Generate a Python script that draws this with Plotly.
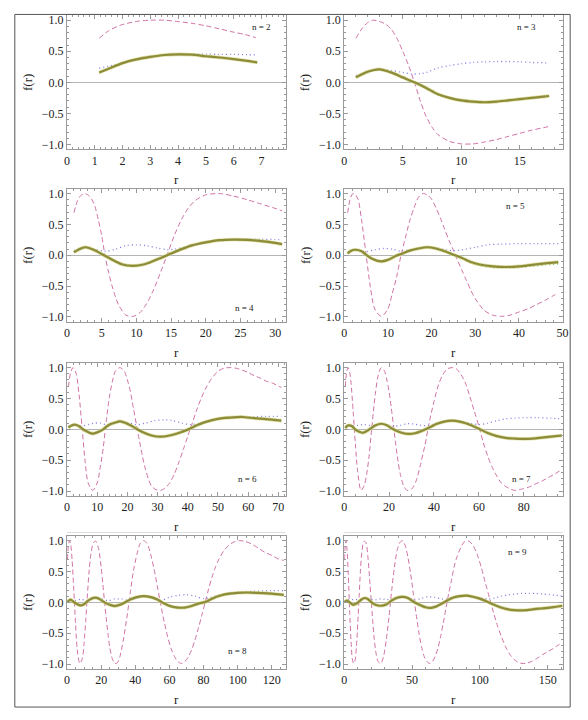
import plotly.graph_objects as go

# ---------------- data ----------------
# n = 2
r2_pink = [1.16, 1.5, 1.93, 2.5, 3.0, 3.5, 3.95, 4.5, 5.0, 5.5, 5.97, 6.4, 6.8]
f2_pink = [0.71, 0.83, 0.92, 0.98, 1.0, 1.0, 0.98, 0.95, 0.91, 0.86, 0.81, 0.77, 0.72]
r2_blue = [1.16, 1.5, 2, 2.5, 3, 3.5, 4, 4.5, 5, 5.5, 6, 6.5, 6.85]
f2_blue = [0.23, 0.26, 0.31, 0.36, 0.40, 0.43, 0.45, 0.455, 0.455, 0.45, 0.45, 0.445, 0.44]
r2_olive = [1.16, 1.5, 2, 2.5, 3, 3.5, 4, 4.5, 5, 5.5, 6, 6.5, 6.85]
f2_olive = [0.16, 0.22, 0.31, 0.37, 0.41, 0.44, 0.45, 0.445, 0.42, 0.40, 0.375, 0.345, 0.32]

# n = 3
r3_pink = [1, 1.5, 2, 2.4, 3, 3.5, 4, 4.5, 5, 5.5, 6, 6.5, 7, 7.5, 8, 9, 10, 11, 12, 13, 14, 15, 16, 17, 17.5]
f3_pink = [0.71, 0.86, 0.96, 1.0, 0.98, 0.94, 0.86, 0.71, 0.50, 0.27, 0.0, -0.30, -0.55, -0.72, -0.84,
           -0.95, -0.99, -0.99, -0.96, -0.92, -0.87, -0.82, -0.77, -0.73, -0.71]
r3_blue = [1, 2, 3, 4, 5, 5.7, 6.5, 7, 8, 9, 10, 11, 12, 13, 14, 15, 16, 17, 17.5]
f3_blue = [0.11, 0.17, 0.21, 0.19, 0.16, 0.135, 0.14, 0.16, 0.23, 0.27, 0.30, 0.32, 0.33, 0.335, 0.335,
           0.33, 0.32, 0.315, 0.31]
r3_olive = [1, 2, 3, 4, 5, 6, 7, 8, 9, 10, 11, 12, 13, 14, 15, 16, 17, 17.5]
f3_olive = [0.08, 0.17, 0.21, 0.16, 0.08, 0.0, -0.09, -0.19, -0.25, -0.29, -0.31, -0.32, -0.31, -0.29,
            -0.27, -0.25, -0.23, -0.22]

# n = 4
r4_pink = [1, 1.5, 2, 2.5, 3, 3.5, 4, 4.5, 5, 5.5, 6, 6.5, 7, 7.5, 8.5, 9.5, 10.5, 11.5, 12.5, 13.5, 14.5,
           15.5, 16.5, 17.5, 18.5, 20, 22, 24, 26, 28, 30, 31]
f4_pink = [0.69, 0.88, 0.97, 1.0, 0.98, 0.92, 0.80, 0.58, 0.32, -0.02, -0.28, -0.50, -0.68, -0.82, -0.97,
           -0.99, -0.93, -0.78, -0.55, -0.27, 0.03, 0.33, 0.58, 0.77, 0.89, 0.98, 1.0, 0.96, 0.90, 0.83,
           0.76, 0.72]
r4_blue = [1, 2.7, 4, 5.5, 7, 8.5, 10, 11.5, 13, 14.5, 15.5, 17, 18.5, 20, 22, 24, 26, 28, 30, 31]
f4_blue = [0.075, 0.14, 0.10, 0.065, 0.10, 0.155, 0.17, 0.155, 0.12, 0.09, 0.10, 0.13, 0.18, 0.22, 0.25,
           0.26, 0.265, 0.26, 0.255, 0.25]
r4_olive = [1, 2, 2.7, 4, 5, 5.5, 7, 8, 9.5, 11, 12.5, 14, 15, 16.5, 18, 20, 22, 24, 26, 28, 30, 31]
f4_olive = [0.05, 0.11, 0.13, 0.08, 0.02, -0.01, -0.10, -0.15, -0.17, -0.15, -0.09, -0.02, 0.03, 0.10,
            0.16, 0.21, 0.245, 0.255, 0.25, 0.23, 0.20, 0.18]

# n = 5
r5_pink = [0.8, 1.4, 2, 2.6, 3.2, 4, 5, 6, 7, 8.5, 10, 11, 12, 13, 14, 15, 16, 17, 18, 19, 20, 21, 22, 23,
           24, 25, 26, 27, 28, 29, 30, 32, 34, 36, 38, 40, 42, 44, 46, 48, 49]
f5_pink = [0.69, 0.92, 1.0, 0.98, 0.90, 0.56, 0.02, -0.52, -0.87, -0.99, -0.87, -0.62, -0.35, 0.0, 0.28,
           0.56, 0.77, 0.94, 1.0, 0.98, 0.91, 0.77, 0.61, 0.42, 0.24, 0.08, -0.09, -0.25, -0.41, -0.57,
           -0.70, -0.89, -0.97, -0.99, -0.97, -0.92, -0.87, -0.80, -0.73, -0.65, -0.61]
r5_blue = [0.8, 2.5, 4, 5, 7, 9, 11, 13, 15, 17, 19, 21, 23, 25, 27, 30, 33, 36, 40, 44, 49]
f5_blue = [0.05, 0.09, 0.065, 0.06, 0.09, 0.11, 0.10, 0.065, 0.09, 0.11, 0.13, 0.12, 0.09, 0.075, 0.09,
           0.13, 0.17, 0.18, 0.19, 0.19, 0.19]
r5_olive = [0.8, 1.5, 2.5, 4, 5, 6.5, 8.5, 10, 12, 13, 15, 17, 19, 21, 23, 25, 27, 29, 31, 34, 37, 40, 43,
            46, 49]
f5_olive = [0.03, 0.07, 0.09, 0.065, 0.01, -0.06, -0.10, -0.075, -0.005, 0.02, 0.075, 0.11, 0.13, 0.11,
            0.065, 0.01, -0.045, -0.11, -0.15, -0.18, -0.19, -0.18, -0.155, -0.13, -0.11]
f5_green = [0.03, 0.07, 0.09, 0.065, 0.01, -0.06, -0.10, -0.075, -0.005, 0.02, 0.075, 0.115, 0.135, 0.115,
            0.065, 0.005, -0.055, -0.12, -0.165, -0.195, -0.20, -0.195, -0.175, -0.155, -0.135]

# n = 6
r6_pink = [0.5, 1.2, 2, 3, 4, 5, 6, 7, 8.5, 10, 11, 12, 13, 14, 15, 16, 17.5, 19, 20, 21, 22, 23, 24, 25,
           26, 27, 28, 29.5, 31, 32.5, 34, 35.5, 37, 38.5, 40, 41.5, 43, 44.5, 46, 48, 50, 52, 54, 56, 58,
           60, 62, 64, 66, 68, 70, 71]
f6_pink = [0.69, 0.92, 1.0, 0.91, 0.56, 0.02, -0.52, -0.87, -0.99, -0.87, -0.62, -0.30, 0.13, 0.51, 0.77,
           0.94, 1.0, 0.94, 0.80, 0.61, 0.34, 0.075, -0.19, -0.44, -0.65, -0.81, -0.92, -0.98, -0.99,
           -0.95, -0.87, -0.73, -0.54, -0.33, -0.11, 0.10, 0.32, 0.51, 0.67, 0.83, 0.94, 0.99, 1.0, 0.99,
           0.96, 0.92, 0.87, 0.83, 0.78, 0.75, 0.70, 0.68]
r6_blue = [0.5, 2.5, 4, 5.5, 7, 9, 11, 13, 15, 17.5, 20, 23, 26, 29, 32, 35, 38, 41, 44, 47, 50, 54, 58,
           62, 66, 71]
f6_blue = [0.05, 0.075, 0.06, 0.06, 0.075, 0.10, 0.10, 0.075, 0.09, 0.13, 0.11, 0.075, 0.10, 0.14, 0.155,
           0.14, 0.10, 0.075, 0.10, 0.14, 0.17, 0.19, 0.20, 0.205, 0.21, 0.21]
r6_olive = [0.5, 1.5, 2.5, 4, 5, 7, 8.5, 10, 12, 14, 16, 17.5, 19, 21, 23, 25, 28, 31, 34, 37, 40, 43, 46,
            50, 54, 58, 62, 66, 71]
f6_olive = [0.03, 0.06, 0.075, 0.05, 0.01, -0.045, -0.07, -0.05, 0.0, 0.075, 0.11, 0.13, 0.11, 0.065,
            0.01, -0.045, -0.10, -0.12, -0.10, -0.06, -0.005, 0.065, 0.12, 0.17, 0.19, 0.20, 0.18, 0.165,
            0.14]

# n = 7
r7_pink = [0.5, 1, 1.7, 2.5, 3, 4, 5, 6, 7.5, 9, 10, 11, 12, 13, 14, 15, 16.5, 18, 19, 20, 21, 22, 23,
           24, 25, 26.5, 28, 30, 32, 34, 36, 38, 40, 42, 44, 46, 48, 50, 52, 54, 56, 58, 60, 62, 64, 66,
           68, 70, 73, 76, 79, 82, 85, 88, 91, 94, 97]
f7_pink = [0.69, 0.90, 1.0, 0.92, 0.77, 0.29, -0.25, -0.68, -0.99, -0.90, -0.73, -0.46, -0.09, 0.29,
           0.61, 0.85, 1.0, 0.94, 0.80, 0.61, 0.34, 0.05, -0.25, -0.52, -0.73, -0.92, -0.99, -0.97, -0.84,
           -0.57, -0.25, 0.13, 0.45, 0.72, 0.89, 0.98, 1.0, 0.98, 0.89, 0.75, 0.53, 0.29, 0.05, -0.22,
           -0.44, -0.62, -0.76, -0.87, -0.95, -0.99, -0.97, -0.94, -0.89, -0.84, -0.78, -0.72, -0.65]
r7_blue = [0.5, 2, 4, 6, 9, 12, 14, 16.5, 19, 22, 25, 28, 31, 34, 37, 40, 44, 48, 52, 56, 60, 64, 68, 72,
           76, 80, 86, 92, 97]
f7_blue = [0.04, 0.065, 0.06, 0.065, 0.075, 0.06, 0.065, 0.09, 0.075, 0.05, 0.065, 0.09, 0.085, 0.065,
           0.06, 0.085, 0.12, 0.14, 0.13, 0.10, 0.075, 0.10, 0.14, 0.17, 0.18, 0.19, 0.19, 0.18, 0.17]
r7_olive = [0.5, 1.2, 2, 3.5, 5, 7, 8.5, 10, 12, 14, 16.5, 19, 21, 23, 26, 29, 32, 35, 38, 41, 44, 48,
            52, 56, 60, 64, 68, 72, 76, 80, 84, 88, 92, 97]
f7_olive = [0.02, 0.05, 0.065, 0.05, -0.005, -0.045, -0.055, -0.03, 0.02, 0.065, 0.09, 0.065, 0.02,
            -0.02, -0.06, -0.075, -0.06, -0.02, 0.03, 0.085, 0.12, 0.14, 0.12, 0.075, 0.01, -0.06, -0.11,
            -0.14, -0.15, -0.155, -0.15, -0.135, -0.12, -0.10]

# n = 8
r8_pink = [0.3, 0.8, 1.5, 2.2, 3, 4, 5, 6, 7.5, 9, 10, 11, 12, 13, 14, 15.5, 17, 18.5, 20, 21, 22, 23,
           24, 25, 26.5, 28, 29.5, 31, 33, 35, 37, 39, 41, 43, 45, 47, 49, 51, 53, 55, 57, 59, 61, 63, 65,
           67, 69, 71, 73, 75, 77, 79, 81, 83, 85, 87, 89, 92, 95, 98, 101, 104, 108, 112, 116, 120, 124,
           127]
f8_pink = [0.70, 0.92, 1.0, 0.93, 0.68, 0.19, -0.34, -0.77, -0.99, -0.91, -0.67, -0.29, 0.14, 0.52,
           0.78, 0.97, 0.99, 0.87, 0.57, 0.30, 0.005, -0.26, -0.51, -0.72, -0.91, -0.99, -0.98, -0.88,
           -0.61, -0.26, 0.14, 0.52, 0.78, 0.96, 1.0, 0.95, 0.78, 0.54, 0.25, -0.05, -0.32, -0.56, -0.75,
           -0.88, -0.96, -0.99, -0.96, -0.89, -0.77, -0.61, -0.42, -0.21, 0.005, 0.22, 0.41, 0.57, 0.70,
           0.84, 0.93, 0.98, 1.0, 0.99, 0.95, 0.88, 0.81, 0.76, 0.70, 0.68]
r8_blue = [0.3, 2, 5, 8, 12, 16.5, 20, 24, 28, 32, 36, 40, 45, 50, 55, 60, 65, 70, 75, 80, 85, 90, 95,
           100, 110, 120, 127]
f8_blue = [0.015, 0.045, 0.03, 0.05, 0.03, 0.075, 0.06, 0.03, 0.055, 0.055, 0.03, 0.06, 0.10, 0.085,
           0.03, 0.085, 0.11, 0.125, 0.10, 0.06, 0.085, 0.125, 0.15, 0.165, 0.18, 0.19, 0.19]
r8_olive = [0.3, 2, 4, 6, 8, 10, 12, 14, 16.5, 19, 22, 25, 28, 31, 34, 37, 41, 45, 49, 53, 57, 61, 65,
            69, 73, 77, 81, 85, 90, 95, 100, 105, 110, 115, 120, 127]
f8_olive = [0.005, 0.045, 0.005, -0.03, -0.05, -0.03, 0.02, 0.055, 0.075, 0.055, 0.0, -0.04, -0.06,
            -0.04, 0.0, 0.045, 0.085, 0.10, 0.085, 0.045, -0.02, -0.065, -0.085, -0.085, -0.06, -0.02,
            0.005, 0.06, 0.11, 0.14, 0.155, 0.16, 0.155, 0.15, 0.14, 0.12]

# n = 9
r9_pink = [0.3, 0.7, 1.3, 2, 3, 4, 5, 6, 7, 8, 9, 10, 11, 12, 13, 14.5, 16, 17.5, 19, 20, 21, 22, 23.5,
           25, 27, 29, 31, 33, 35, 37, 39, 41, 43, 45, 47, 49, 51, 53, 55, 57, 59, 61, 63, 65, 67, 69, 71,
           73, 75, 77, 79, 81, 83, 86, 89, 92, 95, 98, 101, 104, 107, 110, 113, 116, 119, 122, 125, 128,
           131, 134, 138, 142, 146, 150, 154, 158, 161]
f9_pink = [0.70, 0.92, 1.0, 0.88, 0.46, -0.13, -0.61, -0.92, -0.99, -0.94, -0.72, -0.34, 0.09, 0.52,
           0.81, 0.99, 0.97, 0.73, 0.30, 0.005, -0.29, -0.56, -0.83, -0.96, -0.99, -0.88, -0.61, -0.24,
           0.19, 0.57, 0.84, 0.97, 1.0, 0.92, 0.73, 0.46, 0.14, -0.19, -0.48, -0.72, -0.88, -0.96, -0.99,
           -0.96, -0.88, -0.75, -0.56, -0.34, -0.10, 0.14, 0.35, 0.57, 0.73, 0.89, 0.99, 0.99, 0.92, 0.78,
           0.57, 0.32, 0.08, -0.16, -0.38, -0.56, -0.72, -0.84, -0.92, -0.97, -0.99, -0.99, -0.96, -0.91,
           -0.85, -0.80, -0.75, -0.69, -0.66]
r9_blue = [0.3, 2, 5, 8, 11, 15, 19, 23, 27, 31, 35, 39, 43, 48, 52, 57, 62, 67, 72, 76, 81, 86, 91, 96,
           101, 106, 111, 116, 121, 126, 131, 136, 141, 146, 151, 156, 161]
f9_blue = [0.015, 0.04, 0.04, 0.05, 0.04, 0.07, 0.05, 0.04, 0.055, 0.05, 0.04, 0.065, 0.09, 0.07, 0.04,
           0.065, 0.09, 0.08, 0.055, 0.055, 0.08, 0.10, 0.11, 0.09, 0.07, 0.055, 0.07, 0.10, 0.12, 0.135,
           0.145, 0.145, 0.145, 0.135, 0.125, 0.115, 0.10]
r9_olive = [0.3, 2, 4, 6.5, 9, 11, 13, 15, 17, 20, 23, 27, 31, 35, 39, 43, 47, 51, 55, 60, 64, 68, 72,
            76, 80, 85, 90, 95, 100, 105, 110, 115, 120, 125, 130, 135, 140, 145, 150, 155, 161]
f9_olive = [0.005, 0.03, 0.0, -0.04, -0.02, 0.015, 0.05, 0.07, 0.06, 0.005, -0.04, -0.055, -0.035, 0.03,
            0.075, 0.09, 0.07, 0.01, -0.035, -0.08, -0.09, -0.065, -0.02, 0.03, 0.075, 0.10, 0.11, 0.09,
            0.06, 0.015, -0.035, -0.08, -0.11, -0.125, -0.13, -0.125, -0.11, -0.10, -0.09, -0.075, -0.055]

n_labels = ["n = 2", "n = 3", "n = 4", "n = 5", "n = 6", "n = 7", "n = 8", "n = 9"]
y_tick_vals = [-1.0, -0.5, 0.0, 0.5, 1.0]
y_tick_text = ["\u22121.0", "\u22120.5", "0.0", "0.5", "1.0"]

panels = [
    (r2_pink, f2_pink, r2_blue, f2_blue, r2_olive, f2_olive, f2_olive),
    (r3_pink, f3_pink, r3_blue, f3_blue, r3_olive, f3_olive, f3_olive),
    (r4_pink, f4_pink, r4_blue, f4_blue, r4_olive, f4_olive, f4_olive),
    (r5_pink, f5_pink, r5_blue, f5_blue, r5_olive, f5_olive, f5_green),
    (r6_pink, f6_pink, r6_blue, f6_blue, r6_olive, f6_olive, f6_olive),
    (r7_pink, f7_pink, r7_blue, f7_blue, r7_olive, f7_olive, f7_olive),
    (r8_pink, f8_pink, r8_blue, f8_blue, r8_olive, f8_olive, f8_olive),
    (r9_pink, f9_pink, r9_blue, f9_blue, r9_olive, f9_olive, f9_olive),
]

# ---------------- layout geometry (pixels) ----------------
W, H = 588, 720
col_x = [(65.0, 287.0), (346.5, 568.3)]
row_y = [(13.3, 148.3), (187.7, 321.7), (362.7, 496.7), (536.7, 670.7)]
x_ranges = [7.87, 18.65, 31.5, 50.0, 72.4, 97.3, 128.1, 161.0]
x_dticks = [1, 5, 5, 10, 10, 20, 20, 50]
x_minor = [0.2, 1, 1, 2, 2, 5, 5, 10]
label_pos = [(263, 25), (532, 25), (245, 308), (520, 205), (248, 480), (527, 480), (238, 653), (523, 553)]

PINK = "#cf72a4"
BLUE = "#7f7fe6"
GREEN = "#5fb048"
OLIVE = "#8c8c3a"
HALO = "rgba(215,215,140,0.75)"
FRAME = "#9a9a9a"
SERIF = "Liberation Serif, 'Times New Roman', Times, serif"

fig = go.Figure()
layout = {}
annotations = []

for i, (rp, fp, rb, fb, ro, fo, fg) in enumerate(panels):
    row, col = divmod(i, 2)
    k = "" if i == 0 else str(i + 1)
    xa, ya = "x" + k, "y" + k
    x0, x1 = col_x[col]
    yt, yb = row_y[row]
    spline = dict(shape="spline", smoothing=0.8)
    fig.add_trace(go.Scatter(x=rp, y=fp, mode="lines", xaxis=xa, yaxis=ya, hoverinfo="skip",
                             line=dict(color=PINK, width=1, dash="5px,3px", **spline), showlegend=False))
    fig.add_trace(go.Scatter(x=rb, y=fb, mode="lines", xaxis=xa, yaxis=ya, hoverinfo="skip",
                             line=dict(color=BLUE, width=1.3, dash="1px,3px", **spline), showlegend=False))
    fig.add_trace(go.Scatter(x=ro, y=fg, mode="lines", xaxis=xa, yaxis=ya, hoverinfo="skip",
                             line=dict(color=GREEN, width=1.6, dash="1px,3px", **spline), showlegend=False))
    fig.add_trace(go.Scatter(x=ro, y=fo, mode="lines", xaxis=xa, yaxis=ya, hoverinfo="skip",
                             line=dict(color=HALO, width=3.6, **spline), showlegend=False))
    fig.add_trace(go.Scatter(x=ro, y=fo, mode="lines", xaxis=xa, yaxis=ya, hoverinfo="skip",
                             line=dict(color=OLIVE, width=2.2, **spline), showlegend=False))

    layout["xaxis" + k] = dict(
        domain=[x0 / W, x1 / W], range=[0, x_ranges[i]], anchor=ya,
        showgrid=False, zeroline=False, showline=True, linecolor=FRAME, linewidth=1,
        mirror="allticks", ticks="inside", ticklen=4, tickcolor=FRAME, tickwidth=1,
        tick0=0, dtick=x_dticks[i],
        minor=dict(ticks="inside", ticklen=2, dtick=x_minor[i], tick0=0, tickcolor=FRAME, showgrid=False),
        tickfont=dict(family=SERIF, size=12, color="#222"), fixedrange=True,
    )
    layout["yaxis" + k] = dict(
        domain=[1 - yb / H, 1 - yt / H], range=[-1.08, 1.08], anchor=xa,
        showgrid=False, zeroline=True, zerolinecolor="#b4b4b4", zerolinewidth=1,
        showline=True, linecolor=FRAME, linewidth=1,
        mirror="allticks", ticks="inside", ticklen=4, tickcolor=FRAME, tickwidth=1,
        tickvals=y_tick_vals, ticktext=y_tick_text,
        minor=dict(ticks="inside", ticklen=2, dtick=0.1, tick0=0, tickcolor=FRAME, showgrid=False),
        tickfont=dict(family=SERIF, size=12, color="#222"), fixedrange=True,
    )
    annotations.append(dict(text="f(r)", x=(x0 - 40) / W, y=1 - (yt + yb) / 2 / H, xref="paper",
                            yref="paper", showarrow=False, textangle=-90,
                            font=dict(family=SERIF, size=13, color="#222"), xanchor="center",
                            yanchor="middle"))
    annotations.append(dict(text="r", x=(x0 + x1) / 2 / W, y=1 - (yb + 30.5) / H, xref="paper",
                            yref="paper", showarrow=False, font=dict(family=SERIF, size=13, color="#222"),
                            xanchor="center", yanchor="middle"))
    lx, ly = label_pos[i]
    annotations.append(dict(text=n_labels[i], x=lx / W, y=1 - ly / H, xref="paper", yref="paper",
                            showarrow=False, font=dict(family=SERIF, size=9, color="#222"),
                            xanchor="center", yanchor="middle"))

shapes = [
    dict(type="rect", xref="paper", yref="paper", x0=12 / W, x1=576 / W, y0=1 - 709 / H, y1=1 - 12.5 / H,
         line=dict(color="#555555", width=1), layer="above"),
    dict(type="line", xref="paper", yref="paper", x0=65 / W, x1=287 / W, y0=1 - 533.5 / H,
         y1=1 - 533.5 / H, line=dict(color="#dddddd", width=1)),
    dict(type="line", xref="paper", yref="paper", x0=346.5 / W, x1=568.3 / W, y0=1 - 533.5 / H,
         y1=1 - 533.5 / H, line=dict(color="#dddddd", width=1)),
]

fig.update_layout(
    width=W, height=H, margin=dict(l=0, r=0, t=0, b=0, pad=0),
    paper_bgcolor="white", plot_bgcolor="white", showlegend=False,
    annotations=annotations, shapes=shapes, **layout,
)

fig.write_html("out.html", config={"displayModeBar": False},
               post_script="document.body.style.margin='0';document.body.style.padding='0';"
                           "document.documentElement.style.overflow='hidden';")
